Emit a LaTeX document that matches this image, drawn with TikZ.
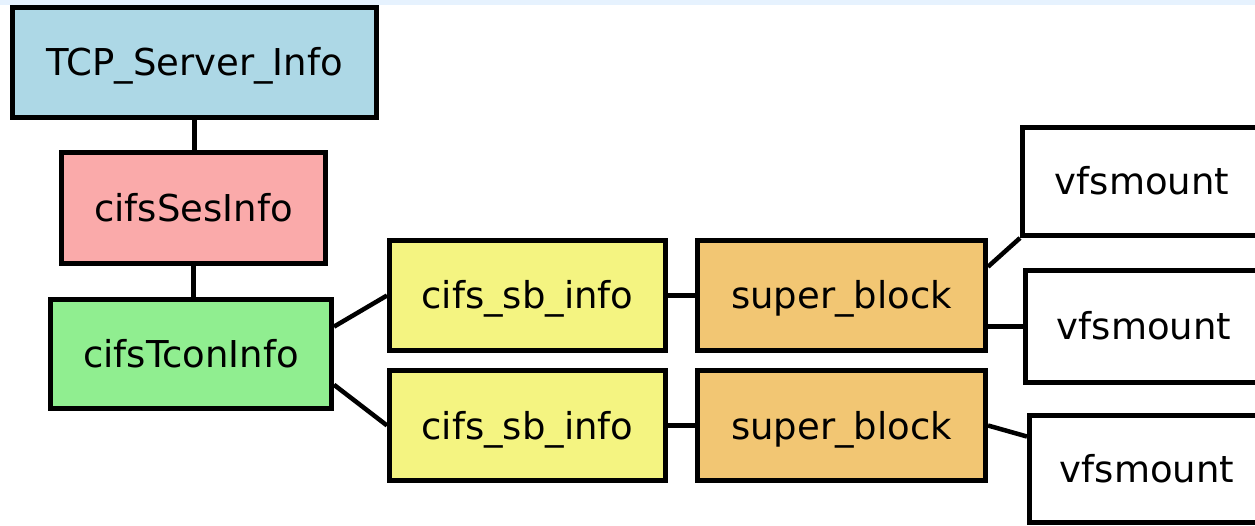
\documentclass[tikz,border=0pt]{standalone}
\usepackage{fontspec}
\setmainfont{DejaVu Sans}
\usetikzlibrary{calc}
\definecolor{topband}{HTML}{E6F2FE}
\definecolor{tcpfill}{HTML}{ADD8E6}
\definecolor{sesfill}{HTML}{FAAAAA}
\definecolor{tconfill}{HTML}{90EE90}
\definecolor{sbfill}{HTML}{F4F481}
\definecolor{superfill}{HTML}{F2C673}
\tikzset{
  box/.style={draw=black, line width=5pt, rectangle, inner sep=0pt,
    font=\fontsize{37}{44}\selectfont, text height=27pt, text depth=0pt},
  link/.style={draw=black, line width=4.5pt},
}
\begin{document}
\begin{tikzpicture}[x=1pt, y=-1pt]
  \useasboundingbox (0,0) rectangle (1255,526);
  \clip (0,0) rectangle (1255,526);
  \fill[topband] (0,0) rectangle (1255,5);

  % structure boxes
  \node[box, fill=tcpfill, minimum width=364pt, minimum height=110pt] (tcp) at (194.5,62.5) {TCP\_Server\_Info};
  \node[box, fill=sesfill, minimum width=264pt, minimum height=111pt] (ses) at (193.5,208) {cifsSesInfo};
  \node[box, fill=tconfill, minimum width=281pt, minimum height=109pt] (tcon) at (191,354) {cifsTconInfo};
  \node[box, fill=sbfill, minimum width=276pt, minimum height=110pt] (sbA) at (527.5,295.5) {cifs\_sb\_info};
  \node[box, fill=sbfill, minimum width=276pt, minimum height=110pt] (sbB) at (527.5,425.5) {cifs\_sb\_info};
  \node[box, fill=superfill, minimum width=288pt, minimum height=110pt] (supA) at (841.5,295.5) {super\_block};
  \node[box, fill=superfill, minimum width=288pt, minimum height=110pt] (supB) at (841.5,425.5) {super\_block};
  \node[box, fill=white, minimum width=239pt, minimum height=108pt] (vfA) at (1142,181.5) {vfsmount};
  \node[box, fill=white, minimum width=237pt, minimum height=112pt] (vfB) at (1144,326.5) {vfsmount};
  \node[box, fill=white, minimum width=235pt, minimum height=107pt] (vfC) at (1147,469) {vfsmount};

  % connectors
  \draw[link] (tcp.south) -- (tcp.south |- ses.north);
  \draw[link] (ses.south) -- (ses.south |- tcon.north);
  \draw[link] ($(tcon.north east)!0.26!(tcon.south east)$) -- (sbA.west);
  \draw[link] ($(tcon.north east)!0.77!(tcon.south east)$) -- (sbB.west);
  \draw[link] (sbA.east) -- (supA.west);
  \draw[link] (sbB.east) -- (supB.west);
  \draw[link] ($(supA.north east)!0.25!(supA.south east)$) -- (vfA.south west);
  \draw[link] (vfB.west -| supA.east) -- (vfB.west);
  \draw[link] (supB.east) -- ($(vfC.north west)!0.21!(vfC.south west)$);
\end{tikzpicture}
\end{document}
